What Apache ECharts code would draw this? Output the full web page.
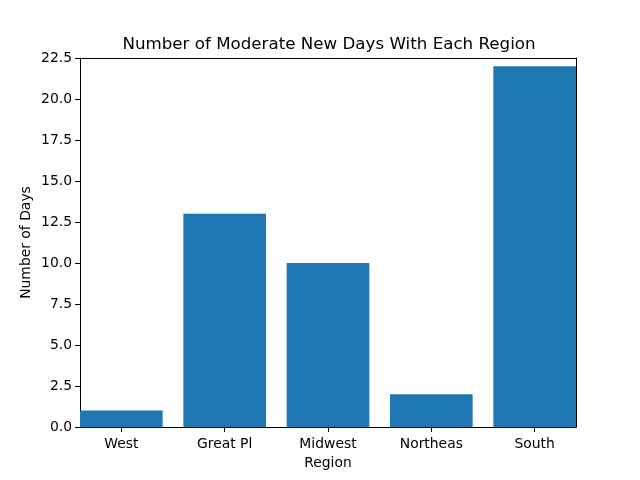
<!DOCTYPE html>
<html><head><meta charset="utf-8">
<script src="https://cdn.jsdelivr.net/npm/echarts@6/dist/echarts.min.js"></script>
<style>html,body{margin:0;padding:0;background:#fff}#c{width:640px;height:480px}</style>
</head><body><div id="c"></div>
<script>
const categories = ["West", "Great Pl", "Midwest", "Northeas", "South"];
const values = [1, 13, 10, 2, 22];
const yTicks = [0, 2.5, 5, 7.5, 10, 12.5, 15, 17.5, 20, 22.5];

const chart = echarts.init(document.getElementById('c'), null, {renderer: 'canvas'});
const font = 'DejaVu Sans';
const plotW = 496;
const barPx = plotW / 4.8 * 0.8;
const frameAxis = {
  splitLine: {show: false}, axisTick: {show: false}, axisLabel: {show: false},
  axisLine: {show: true, onZero: false, lineStyle: {color: '#000', width: 1}}
};
chart.setOption({
  animation: false,
  backgroundColor: '#fff',
  title: {
    text: 'Number of Moderate New Days With Each Region',
    left: 324, top: 31, textAlign: 'center',
    textStyle: {fontFamily: font, fontSize: 16.7, fontWeight: 'normal', color: '#000'}
  },
  grid: {left: 80, right: 64, top: 58, bottom: 53},
  xAxis: [{
    type: 'value', min: -0.4, max: 4.4,
    name: 'Region', nameLocation: 'middle', nameGap: 29,
    nameTextStyle: {fontFamily: font, fontSize: 13.9, color: '#000'},
    splitLine: {show: false},
    axisLine: {show: true, onZero: false, lineStyle: {color: '#000', width: 1}},
    axisTick: {show: true, length: 5, lineStyle: {color: '#000'}, customValues: categories.map((c, i) => i)},
    axisLabel: {fontFamily: font, fontSize: 13.9, color: '#000', margin: 10,
      customValues: categories.map((c, i) => i),
      formatter: v => categories[Math.round(v)] ?? ''}
  }, Object.assign({type: 'value', min: -0.4, max: 4.4, position: 'top'}, frameAxis)],
  yAxis: [{
    type: 'value', min: 0, max: 22.5, interval: 2.5,
    name: 'Number of Days', nameLocation: 'middle', nameGap: 47, nameRotate: 90,
    nameMoveOverlap: false,
    nameTextStyle: {fontFamily: font, fontSize: 13.9, color: '#000'},
    splitLine: {show: false},
    axisLine: {show: true, onZero: false, lineStyle: {color: '#000', width: 1}},
    axisTick: {show: true, length: 5, lineStyle: {color: '#000'}},
    axisLabel: {fontFamily: font, fontSize: 13.9, color: '#000', margin: 8,
      formatter: v => v.toFixed(1)}
  }, Object.assign({type: 'value', min: 0, max: 22.5, position: 'right'}, frameAxis)],
  series: [{
    type: 'bar',
    data: values.map((v, i) => [i, v]),
    barWidth: barPx,
    itemStyle: {color: '#1f77b4'}
  }]
});
</script></body></html>
